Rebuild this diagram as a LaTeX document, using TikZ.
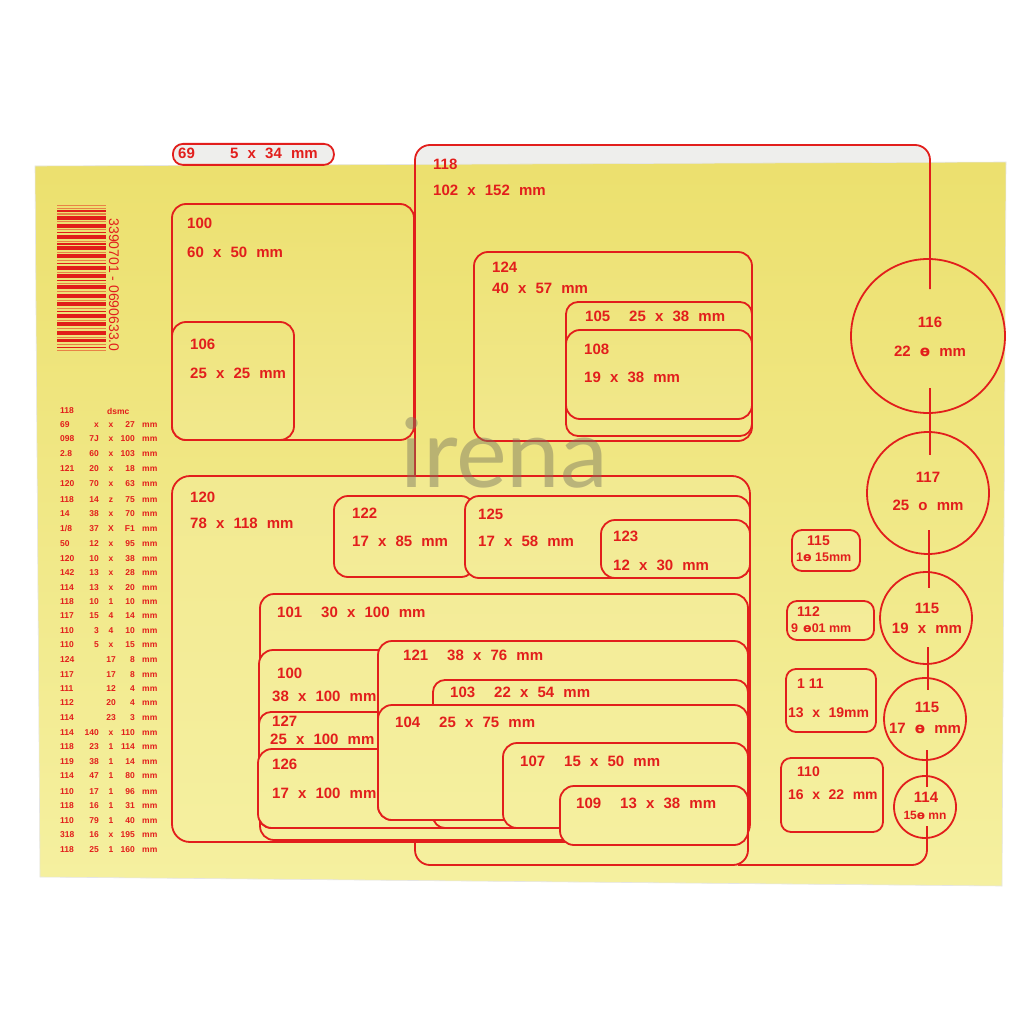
\documentclass[tikz,border=0pt]{standalone}
\usepackage{fontspec}
\setmainfont{Liberation Sans}[WordSpace=2.2]
\newfontfamily\smallf{Liberation Sans}
\newfontfamily\tabfont{Liberation Sans}
\newfontfamily\dvs{DejaVu Sans}
\newfontfamily\wmfont{Lato}
\definecolor{redl}{RGB}{226,30,28}
\definecolor{ytop}{RGB}{236,224,110}
\definecolor{ymid}{RGB}{243,235,150}
\definecolor{ybot}{RGB}{245,240,160}
\definecolor{tabgrey}{RGB}{238,238,236}
\definecolor{bred}{RGB}{225,30,25}
\definecolor{bor}{RGB}{232,130,70}
\definecolor{wmcol}{RGB}{120,115,95}
\newcommand\pcol[2]{%
  \pgfmathtruncatemacro\tmpb{#2<524}%
  \ifnum\tmpb=1
    \pgfmathsetmacro\tmpp{min(100,max(0,(524-#2)/3.59))}\edef#1{ytop!\tmpp!ymid}%
  \else
    \pgfmathsetmacro\tmpp{min(100,max(0,(880-#2)/3.56))}\edef#1{ymid!\tmpp!ybot}%
  \fi}
\newcommand\card[6][]{%
  \pcol\ctop{#4}\pcol\cbot{#6}%
  \pgfmathsetmacro\cw{#5-#3}\pgfmathsetmacro\ch{#6-#4}%
  \node[card, top color=\ctop, bottom color=\cbot, minimum width=\cw pt, minimum height=\ch pt, #1] (#2) at (#3,#4) {};}
\newcommand\gp{\hspace{19pt}}
\newcommand\trow[5]{%
  \node[tcell,anchor=west] (r#1c) at (60,#1) {#2};
  \node[tcell,anchor=east] (r#1n) at (99,#1) {#3};
  \node[tcell] (r#1s) at (111,#1) {#4};
  \node[tcell,anchor=east] (r#1d) at (135,#1) {#5};
  \node[tcell,anchor=west] (r#1m) at (142,#1) {mm};}
\tikzset{
  redline/.style={draw=redl, line width=1.8pt},
  card/.style={redline, rounded corners=14pt, inner sep=0pt, outer sep=0pt, anchor=north west},
  lbl/.style={text=redl, font=\fontsize{15}{15}\selectfont\bfseries, inner sep=0pt, anchor=west},
  slbl/.style={lbl, font=\fontsize{14}{14}\selectfont\bfseries},
  clbl/.style={lbl, anchor=center},
  ring/.style={redline, circle, inner sep=0pt, outer sep=0pt},
  tcell/.style={text=redl, font=\fontsize{8.5}{8.5}\tabfont\bfseries, inner sep=0pt},
}
\begin{document}
\begin{tikzpicture}[x=1pt,y=-1pt]
\useasboundingbox (0,0) rectangle (1024,1024);
\fill[white] (0,0) rectangle (1024,1024);
% transparent tab of 118 above the sheet
\fill[tabgrey, rounded corners=15pt] (415,190) -- (415,145) -- (930,145) -- (930,190) -- cycle;
% sheet
\shade[top color=ytop, middle color=ymid, bottom color=ybot, draw=black!10, line width=0.6pt]
  (35,166) -- (1006,162) -- (1002,886) -- (40,877) -- cycle;
% tab 69
\node[redline, fill=tabgrey, rounded corners=10pt, minimum width=161pt, minimum height=21pt, anchor=north west, inner sep=0pt] (tab69) at (172,143) {};
% outline of 118
\draw[redline, rounded corners=15pt] (415,476) |- (930,145) -- (930,289);
\draw[redline, rounded corners=15pt] (415,840) |- (748,865) -- (748,826);
\draw[redline, rounded corners=15pt] (738,865) -| (927,826);
\draw[redline] (930,388) -- (930,455);
\draw[redline] (929,530) -- (929,588);
\draw[redline] (928,647) -- (928,690);
\draw[redline] (927,750) -- (927,787);
% cards
\card{b100a}{172}{204}{414}{440}
\card{b106}{172}{322}{294}{440}
\card{b124}{474}{252}{752}{441}
\card[rounded corners=12pt]{b105}{566}{302}{752}{436}
\card{b108}{566}{330}{752}{419}
\card[rounded corners=18pt]{b120}{172}{476}{750}{842}
\card{b122}{334}{496}{475}{577}
\card{b125}{465}{496}{750}{578}
\card{b123}{601}{520}{750}{578}
\card{b101}{260}{594}{748}{840}
\card{b100b}{259}{650}{748}{828}
\card[rounded corners=12pt]{b127}{259}{712}{748}{828}
\card{b126}{258}{749}{748}{828}
\card{b121}{378}{641}{748}{820}
\card[rounded corners=12pt]{b103}{433}{680}{748}{828}
\card{b104}{378}{705}{748}{820}
\card{b107}{503}{743}{748}{828}
\card{b109}{560}{786}{748}{845}
\card[rounded corners=10pt]{b115s}{792}{530}{860}{571}
\card[rounded corners=10pt]{b112}{787}{601}{874}{640}
\card[rounded corners=10pt]{b111}{786}{669}{876}{732}
\card[rounded corners=10pt]{b110}{781}{758}{883}{832}
% circles
\node[ring, minimum size=154pt] (c116) at (928,336) {};
\node[ring, minimum size=122pt] (c117) at (928,493) {};
\node[ring, minimum size=92pt] (c115a) at (926,618) {};
\node[ring, minimum size=82pt] (c115b) at (925,719) {};
\node[ring, minimum size=62pt] (c114) at (925,807) {};
% watermark
\node[text=wmcol, text opacity=0.45, font=\fontsize{96}{96}\wmfont, inner sep=0pt, anchor=base west] (wm) at (400,487) {irena};
% labels
\node[lbl] (t69a) at (178,153) {69};
\node[lbl] (t69b) at (230,153) {5 x 34 mm};
\node[lbl] (t118a) at (433,164) {118};
\node[lbl] (t118b) at (433,190) {102 x 152 mm};
\node[lbl] (t100a) at (187,223) {100};
\node[lbl] (t100b) at (187,252) {60 x 50 mm};
\node[lbl] (t106a) at (190,344) {106};
\node[lbl] (t106b) at (190,373) {25 x 25 mm};
\node[lbl] (t124a) at (492,267) {124};
\node[lbl] (t124b) at (492,288) {40 x 57 mm};
\node[lbl] (t105) at (585,316) {105\gp 25 x 38 mm};
\node[lbl] (t108a) at (584,349) {108};
\node[lbl] (t108b) at (584,377) {19 x 38 mm};
\node[lbl] (t120a) at (190,497) {120};
\node[lbl] (t120b) at (190,523) {78 x 118 mm};
\node[lbl] (t122a) at (352,513) {122};
\node[lbl] (t122b) at (352,541) {17 x 85 mm};
\node[lbl] (t125a) at (478,514) {125};
\node[lbl] (t125b) at (478,541) {17 x 58 mm};
\node[lbl] (t123a) at (613,536) {123};
\node[lbl] (t123b) at (613,565) {12 x 30 mm};
\node[lbl] (t101) at (277,612) {101\gp 30 x 100 mm};
\node[lbl] (t121) at (403,655) {121\gp 38 x 76 mm};
\node[lbl] (t100c) at (277,673) {100};
\node[lbl] (t100d) at (272,696) {38 x 100 mm};
\node[lbl] (t103) at (450,692) {103\gp 22 x 54 mm};
\node[lbl] (t127a) at (272,721) {127};
\node[lbl] (t127b) at (270,739) {25 x 100 mm};
\node[lbl] (t104) at (395,722) {104\gp 25 x 75 mm};
\node[lbl] (t126a) at (272,764) {126};
\node[lbl] (t126b) at (272,793) {17 x 100 mm};
\node[lbl] (t107) at (520,761) {107\gp 15 x 50 mm};
\node[lbl] (t109) at (576,803) {109\gp 13 x 38 mm};
% right column labels
\node[slbl] (t115sa) at (807,541) {115};
\node[lbl, font=\fontsize{12.5}{12.5}\smallf\bfseries] (t115sb) at (796,557) {1{\dvs ɵ} 15mm};
\node[slbl] (t112a) at (797,612) {112};
\node[lbl, font=\fontsize{12.5}{12.5}\smallf\bfseries] (t112b) at (791,628) {9\hspace{5pt}{\dvs ɵ}01 mm};
\node[lbl, font=\fontsize{14}{14}\smallf\bfseries] (t111a) at (797,684) {1 11};
\node[slbl] (t111b) at (788,713) {13 x 19mm};
\node[slbl] (t110a) at (797,772) {110};
\node[slbl] (t110b) at (788,795) {16 x 22 mm};
\node[clbl] (t116a) at (930,322) {116};
\node[clbl] (t116b) at (930,351) {22 {\dvs ɵ} mm};
\node[clbl] (t117a) at (928,477) {117};
\node[clbl] (t117b) at (928,505) {25 o mm};
\node[clbl] (t115aa) at (927,608) {115};
\node[clbl] (t115ab) at (927,628) {19 x mm};
\node[clbl] (t115ba) at (927,707) {115};
\node[clbl] (t115bb) at (925,728) {17 {\dvs ɵ} mm};
\node[clbl] (t114a) at (926,797) {114};
\node[clbl, font=\fontsize{12}{12}\smallf\bfseries] (t114b) at (925,815) {15{\dvs ɵ} mn};
% barcode
\foreach \a/\b/\c in {205/206.5/bor, 208/209/bor, 210.5/212/bred, 213.5/215/bor, 216.5/220/bred, 221.5/222.5/bor, 224/228/bred, 229.5/230.5/bor, 232/233.5/bred, 235/239/bred, 240.5/241.5/bor, 243/244.5/bred, 246/250/bred, 251.5/252.5/bor, 254/258/bred, 259.5/261/bor, 262.5/264/bred, 265.5/270/bred, 271.5/272.5/bor, 274/278/bred, 279.5/281/bred, 282.5/283.5/bor, 285/289/bred, 290.5/292/bor, 293.5/298/bred, 299.5/300.5/bor, 302/306/bred, 307.5/309/bor, 310.5/312/bred, 313.5/318/bred, 319.5/320.5/bor, 322/326/bred, 327.5/329/bor, 330.5/335/bred, 336.5/337.5/bor, 339/342/bred, 343.5/345/bor, 346.5/348/bred, 349.5/351/bor}
  {\fill[\c] (57,\a) rectangle (106,\b);}
\node[text=redl, font=\fontsize{14}{14}\smallf, rotate=-90, inner sep=0pt] (bcode) at (114,285) {3390701 - 0690633.0};
% size table
\node[tcell,anchor=west] (th1) at (60,411) {118};
\node[tcell,anchor=west] (th2) at (107,411) {dsmc};
\trow{425}{69}{x}{x}{27}
\trow{439}{098}{7J}{x}{100}
\trow{454}{2.8}{60}{x}{103}
\trow{469}{121}{20}{x}{18}
\trow{484}{120}{70}{x}{63}
\trow{500}{118}{14}{z}{75}
\trow{514}{14}{38}{x}{70}
\trow{529}{1/8}{37}{X}{F1}
\trow{544}{50}{12}{x}{95}
\trow{559}{120}{10}{x}{38}
\trow{573}{142}{13}{x}{28}
\trow{588}{114}{13}{x}{20}
\trow{602}{118}{10}{1}{10}
\trow{616}{117}{15}{4}{14}
\trow{631}{110}{3}{4}{10}
\trow{645}{110}{5}{x}{15}
\trow{660}{124}{}{17}{8\hspace{6pt}}
\trow{675}{117}{}{17}{8\hspace{6pt}}
\trow{689}{111}{}{12}{4\hspace{6pt}}
\trow{703}{112}{}{20}{4\hspace{6pt}}
\trow{718}{114}{}{23}{3\hspace{6pt}}
\trow{733}{114}{140}{x}{110}
\trow{747}{118}{23}{1}{114}
\trow{762}{119}{38}{1}{14}
\trow{776}{114}{47}{1}{80}
\trow{792}{110}{17}{1}{96}
\trow{806}{118}{16}{1}{31}
\trow{821}{110}{79}{1}{40}
\trow{835}{318}{16}{x}{195}
\trow{850}{118}{25}{1}{160}
\end{tikzpicture}
\end{document}
